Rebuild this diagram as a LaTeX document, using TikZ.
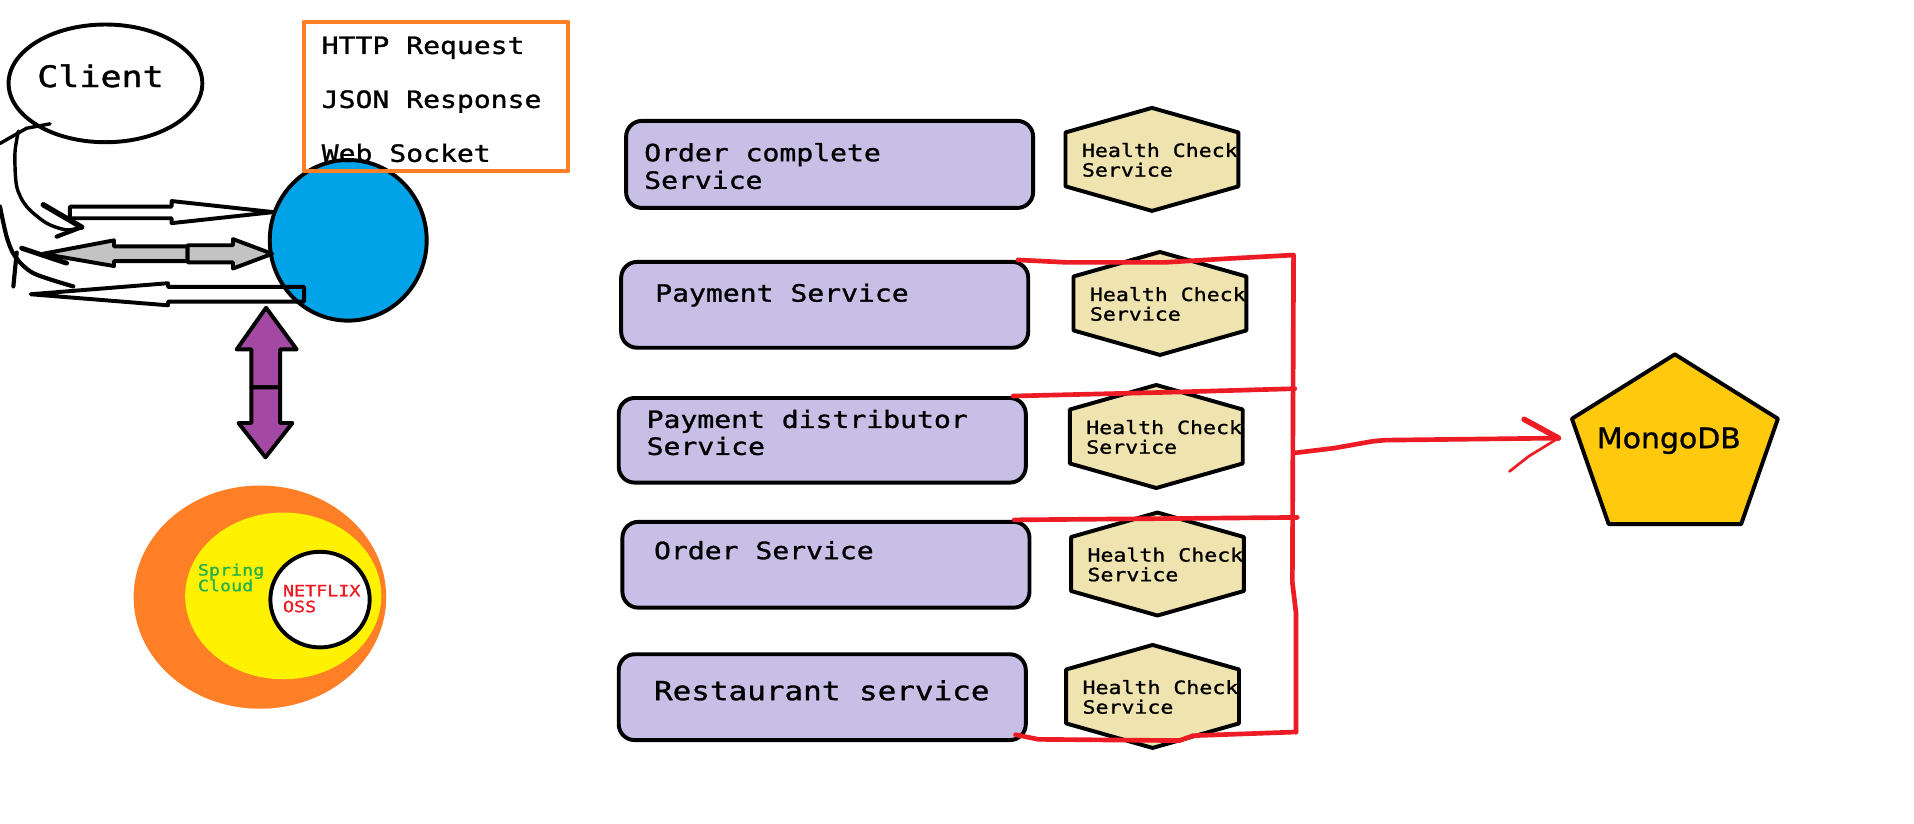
\documentclass[tikz,border=0pt]{standalone}
\usepackage{fontspec}
\newfontfamily\monof[FakeStretch=1.18,FakeBold=1.2]{DejaVu Sans Mono}
\newfontfamily\sansf[FakeStretch=1.06,FakeBold=1.2]{DejaVu Sans}
\usetikzlibrary{shapes.geometric}
\definecolor{lav}{HTML}{C8BFE7}
\definecolor{hexfill}{HTML}{EFE4B0}
\definecolor{blueC}{HTML}{00A2E8}
\definecolor{orangeC}{HTML}{FF7F27}
\definecolor{yellowC}{HTML}{FFF200}
\definecolor{purpleC}{HTML}{A349A4}
\definecolor{grayC}{HTML}{C3C3C3}
\definecolor{redC}{HTML}{ED1C24}
\definecolor{greenC}{HTML}{22B14C}
\definecolor{mongoC}{HTML}{FFC90E}
\newcommand\hexagonbox[3]{%
  \begin{scope}[shift={(#2,#3)}]
    \coordinate (#1) at (0,0);
    \begin{scope}
      \clip (0,-42) -- (70.5,-22) -- (70.5,22) -- (0,42) -- (-70.5,22) -- (-70.5,-22) -- cycle;
      \fill[hexfill] (-80,-50) rectangle (80,50);
      \node[hctext] (#1-a) at (-57.5,-2) {Health Check};
      \node[hctext] (#1-b) at (-57.5,14) {Service};
    \end{scope}
    \draw[bord] (0,-42) -- (70.5,-22) -- (70.5,22) -- (0,42) -- (-70.5,22) -- (-70.5,-22) -- cycle;
  \end{scope}}
\begin{document}
\begin{tikzpicture}[x=0.5pt,y=-0.5pt,line join=round,
  bord/.style={draw=black,line width=1.6pt},
  svc/.style={bord,fill=lav,rounded corners=6.5pt,minimum width=166pt,minimum height=35pt,anchor=north west,inner sep=0pt},
  svctext/.style={font=\monof\fontsize{9.7}{11}\selectfont,anchor=base west,inner sep=0pt},
  hctext/.style={font=\monof\fontsize{7.45}{8}\selectfont,anchor=base west,inner sep=0pt},
  smalltext/.style={font=\monof\fontsize{6.35}{7}\selectfont,anchor=base west,inner sep=0pt},
  redline/.style={draw=redC,line width=1.9pt,line cap=round},
  hand/.style={draw=black,line width=1.7pt,line cap=round},
  blob/.style={ellipse,inner sep=0pt}]
\useasboundingbox (0,0) rectangle (1561,672);
\fill[white] (0,0) rectangle (1561,672);

% client
\node[blob,bord,fill=white,minimum width=79pt,minimum height=48pt] (client) at (86,68) {};
\node[font=\monof\fontsize{12.1}{14}\selectfont,anchor=base west,inner sep=0pt] (clientlbl) at (30,71) {Client};

% gateway circle
\node[blob,bord,fill=blueC,minimum width=64pt,minimum height=65.5pt] (gw) at (284,196) {};

% legend box
\node[draw=orangeC,line width=1.6pt,minimum width=108pt,minimum height=61pt,anchor=north west,inner sep=0pt] (legend) at (246,16) {};
\node[svctext] (req) at (262,44) {HTTP Request};
\node[svctext] (resp) at (262,88) {JSON Response};
\node[svctext] (sock) at (262,132) {Web Socket};

% block arrows client <-> gateway
\draw[bord] (57,168.5) -- (140,168.5) -- (140,164) -- (223,173) -- (140,182) -- (140,178) -- (57,178) -- cycle;
\draw[bord,fill=grayC] (35,207) -- (93,196) -- (93,201) -- (153,201) -- (153,213) -- (93,213) -- (93,217) -- cycle;
\draw[bord,fill=grayC] (153,200) -- (190,200) -- (190,195) -- (222,207) -- (190,219) -- (190,214) -- (153,214) -- cycle;
\draw[bord] (25,240) -- (137,231) -- (137,234) -- (248,234) -- (248,246) -- (137,246) -- (137,249) -- cycle;

% hand drawn strokes
\draw[hand,line width=1.4pt] (40.8,101) -- (21.7,104.6) -- (0,117);
\draw[hand,line width=1.4pt] plot[smooth] coordinates {(15,107) (12.2,125) (13.6,152) (21.7,168.4) (38,182) (54.3,187.5) (66.6,185.3)};
\draw[hand,line width=2.2pt] (35.3,167) -- (66.6,185.3);
\draw[hand] (46.2,193) -- (66.6,185.3);
\draw[hand] plot[smooth] coordinates {(0,168.4) (5.4,193) (12.2,209) (27.2,222.8) (59.8,233.6)};
\draw[hand] (13.6,206) -- (10.9,233.6);
\draw[hand,line width=2pt] (17.7,202.4) -- (54.3,214.6);

% purple double arrow
\draw[bord,fill=purpleC] (217,251) -- (242,285) -- (228.5,285) -- (228.5,316) -- (205,316) -- (205,285) -- (193,285) -- cycle;
\draw[bord,fill=purpleC] (205,316) -- (228.5,316) -- (228.5,345) -- (238.5,345) -- (216.5,373) -- (194.5,345) -- (205,345) -- cycle;

% spring cloud
\node[blob,fill=orangeC,minimum width=103pt,minimum height=91pt] (spring) at (212,487) {};
\node[blob,fill=yellowC,minimum width=80pt,minimum height=68pt] (cloud) at (231,486) {};
\node[blob,bord,fill=white,minimum width=40.5pt,minimum height=39pt] (netflix) at (261,489) {};
\node[smalltext,text=greenC] (sc1) at (161,469.4) {Spring};
\node[smalltext,text=greenC] (sc2) at (161,482.2) {Cloud};
\node[smalltext,text=redC] (nf1) at (230.4,486.3) {NETFLIX};
\node[smalltext,text=redC] (nf2) at (230.4,499.3) {OSS};

% services
\node[svc,minimum height=35.5pt] (oc) at (509,97) {};
\node[svctext] (oc-a) at (525,131.5) {Order complete};
\node[svctext] (oc-b) at (525,154) {Service};
\node[svc] (ps) at (505,212) {};
\node[svctext] (ps-a) at (534,246) {Payment Service};
\node[svc,minimum height=34.5pt] (pd) at (503,323) {};
\node[svctext] (pd-a) at (527,349) {Payment distributor};
\node[svctext] (pd-b) at (527,371) {Service};
\node[svc] (os) at (506,424) {};
\node[svctext] (os-a) at (533,456) {Order Service};
\node[svc] (rs) at (503,532) {};
\node[svctext,font=\monof\fontsize{10.7}{12}\selectfont] (rs-a) at (533,571) {Restaurant service};

% health checks
\hexagonbox{hc1}{939.5}{130}
\hexagonbox{hc2}{946}{247.5}
\hexagonbox{hc3}{943}{356}
\hexagonbox{hc4}{944}{460}
\hexagonbox{hc5}{940}{568}

% mongo
\fill[mongoC] (1366,289) -- (1450,341.5) -- (1420,427.5) -- (1312,427.5) -- (1282,341.5) -- cycle;
\draw[bord] (1366,289) -- (1450,341.5) -- (1420,427.5) -- (1312,427.5) -- (1282,341.5) -- cycle;
\node[font=\sansf\fontsize{11.5}{13}\selectfont,anchor=base west,inner sep=0pt] (mongo) at (1302,365.5) {MongoDB};

% red bus
\coordinate (busTop) at (1055,208);
\coordinate (busBot) at (1057,597);
\coordinate (busMid) at (1055,369.5);
\coordinate (mongoIn) at (1271,357.3);
\draw[redline] ([xshift=-5pt]ps.north east) -- (870,214) -- (950,214) -- (1000,211) -- (busTop) -- (1054,475) -- (1057,500) -- (busBot);
\draw[redline] ([xshift=-6pt]pd.north east) -- (950,320) -- (1056,317);
\draw[redline] ([xshift=-7pt]os.north east) -- (1058,422);
\draw[redline] ([xshift=-5pt,yshift=3pt]rs.south east) -- (847,603) -- (962,604) -- (973,600) -- (busBot);
\draw[redline] (busMid) -- (1088,365.5) -- (1119,360) -- (1129,359) -- (mongoIn);
\draw[redline,line width=2.3pt] (1243,342) .. controls (1257,350) .. (mongoIn);
\draw[redline,line width=1.1pt] (1231,384.5) -- (1247,372) -- (mongoIn);
\end{tikzpicture}
\end{document}
